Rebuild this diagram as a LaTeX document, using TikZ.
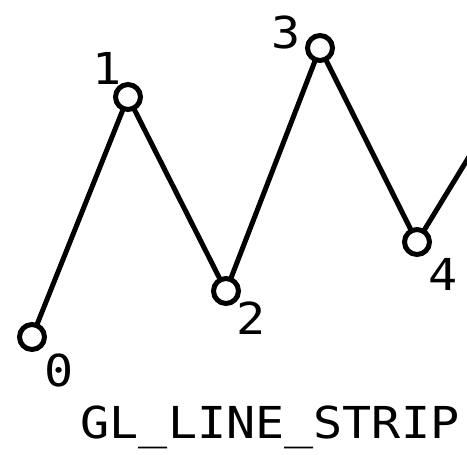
\documentclass[tikz,border=0pt]{standalone}
\usepackage{fontspec}
\newfontfamily\glmono[FakeStretch=1.1]{DejaVu Sans Mono}
\begin{document}
\begin{tikzpicture}[x=1pt,y=-1pt,
  vert/.style={circle,draw=black,fill=white,line width=5pt,minimum size=25pt,inner sep=0pt},
  lbl/.style={font=\glmono\fontsize{44}{44}\selectfont,inner sep=0pt,anchor=center},
  strip/.style={line width=5pt,line join=round}]
\useasboundingbox (0,0) rectangle (467,455);
\clip (0,0) rectangle (467,455);
\coordinate (p0) at (32,337);
\coordinate (p1) at (128,97);
\coordinate (p2) at (226,291);
\coordinate (p3) at (320,48);
\coordinate (p4) at (417,242);
\coordinate (p5) at (514,83);
\draw[strip] (p0) -- (p1) -- (p2) -- (p3) -- (p4) -- (p5);
\node[vert] (v0) at (p0) {};
\node[vert] (v1) at (p1) {};
\node[vert] (v2) at (p2) {};
\node[vert] (v3) at (p3) {};
\node[vert] (v4) at (p4) {};
\node[lbl] (l0) at (59,370) {0};
\node[lbl] (l1) at (107,68) {1};
\node[lbl] (l2) at (251,318) {2};
\node[lbl] (l3) at (286,32) {3};
\node[lbl] (l4) at (443,274) {4};
\node[lbl] (title) at (270,427) {GL\_LINE\_STRIP};
\end{tikzpicture}
\end{document}
